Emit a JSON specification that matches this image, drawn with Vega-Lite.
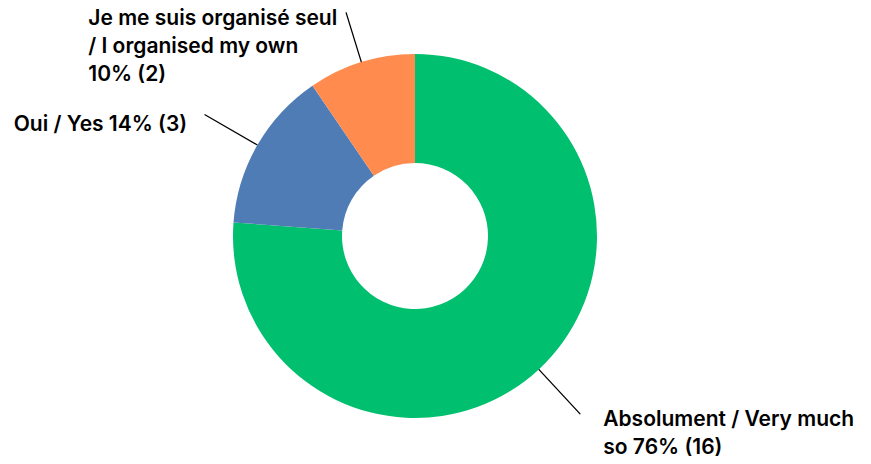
{
  "$schema": "https://vega.github.io/schema/vega-lite/v6.json",
  "width": 830,
  "height": 464,
  "autosize": {"type": "none"},
  "padding": {"left": 0, "top": 4, "right": 41, "bottom": 0},
  "background": "white",
  "config": {"view": {"stroke": null}},
  "data": {
    "values": [
      {"answer": "Absolument / Very much so", "count": 16, "percent": 76, "label": "Absolument / Very much\nso 76% (16)"},
      {"answer": "Oui / Yes", "count": 3, "percent": 14, "label": "Oui / Yes 14% (3)"},
      {"answer": "Je me suis organisé seul / I organised my own", "count": 2, "percent": 10, "label": "Je me suis organisé seul\n/ I organised my own\n10% (2)"}
    ]
  },
  "encoding": {
    "theta": {"field": "count", "type": "quantitative", "stack": true},
    "order": {"field": "count", "type": "quantitative", "sort": "descending"}
  },
  "resolve": {"scale": {"theta": "independent"}},
  "layer": [
    {
      "mark": {"type": "arc", "innerRadius": 73, "outerRadius": 182},
      "encoding": {
        "color": {
          "field": "answer",
          "type": "nominal",
          "scale": {
            "domain": ["Absolument / Very much so", "Oui / Yes", "Je me suis organisé seul / I organised my own"],
            "range": ["#00BF6F", "#507CB6", "#FF8B4F"]
          },
          "legend": null
        }
      }
    },
    {
      "mark": {"type": "arc", "innerRadius": 182, "outerRadius": 243, "padAngle": 3.14, "filled": false, "stroke": "#000000", "strokeWidth": 1.3},
      "encoding": {
        "detail": {"field": "answer", "type": "nominal"},
        "strokeOpacity": {"condition": {"test": "datum.answer === 'Oui / Yes'", "value": 1}, "value": 0}
      }
    },
    {
      "mark": {"type": "arc", "innerRadius": 182, "outerRadius": 234, "padAngle": 3.14, "filled": false, "stroke": "#000000", "strokeWidth": 1.3},
      "encoding": {
        "detail": {"field": "answer", "type": "nominal"},
        "strokeOpacity": {"condition": {"test": "datum.answer === 'Je me suis organisé seul / I organised my own'", "value": 1}, "value": 0}
      }
    },
    {
      "mark": {"type": "arc", "innerRadius": 182, "outerRadius": 243, "padAngle": 3.14, "filled": false, "stroke": "#000000", "strokeWidth": 1.3},
      "encoding": {
        "theta": {"field": "count", "type": "quantitative", "stack": true, "scale": {"domain": [-8, 34]}},
        "detail": {"field": "answer", "type": "nominal"},
        "strokeOpacity": {"condition": {"test": "datum.answer === 'Absolument / Very much so'", "value": 1}, "value": 0}
      }
    },
    {
      "mark": {"type": "text", "radius": 240, "align": "left", "baseline": "alphabetic", "dx": 25, "dy": 14, "font": "Inter", "fontSize": 21, "fontWeight": 600, "lineHeight": 28, "lineBreak": "\n", "color": "#000000"},
      "encoding": {
        "detail": {"field": "answer", "type": "nominal"},
        "text": {"condition": {"test": "datum.answer === 'Absolument / Very much so'", "field": "label"}, "value": ""}
      }
    },
    {
      "mark": {"type": "text", "radius": 240, "align": "right", "baseline": "alphabetic", "dx": -20, "dy": 15, "font": "Inter", "fontSize": 21, "fontWeight": 600, "lineHeight": 28, "lineBreak": "\n", "color": "#000000"},
      "encoding": {
        "detail": {"field": "answer", "type": "nominal"},
        "text": {"condition": {"test": "datum.answer === 'Oui / Yes'", "field": "label"}, "value": ""}
      }
    },
    {
      "mark": {"type": "text", "radius": 240, "align": "left", "baseline": "alphabetic", "dx": -256, "dy": 18, "font": "Inter", "fontSize": 21, "fontWeight": 600, "lineHeight": 28, "lineBreak": "\n", "color": "#000000"},
      "encoding": {
        "detail": {"field": "answer", "type": "nominal"},
        "text": {"condition": {"test": "datum.answer === 'Je me suis organisé seul / I organised my own'", "field": "label"}, "value": ""}
      }
    }
  ]
}
